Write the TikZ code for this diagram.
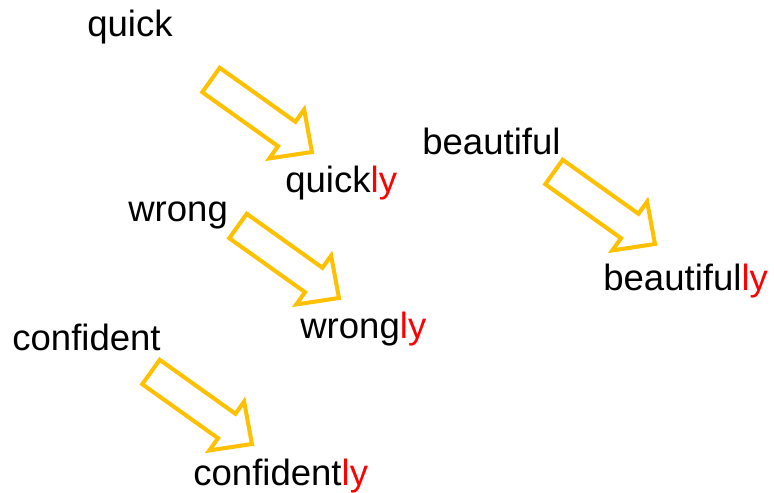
\documentclass[tikz,border=0pt]{standalone}
\usepackage{fontspec}
\setmainfont{Liberation Sans}
\usetikzlibrary{positioning}
\definecolor{adjArrow}{HTML}{FFC000}
\definecolor{adjSuffix}{HTML}{FF0000}
\newcommand{\lySuffix}{\textcolor{adjSuffix}{ly}}
\tikzset{
  adj-word/.style={
    anchor=base west, inner sep=0pt,
    font=\fontsize{20.8}{24}\selectfont
  },
  adj-arrow/.pic={
    \draw[adjArrow, line width=2.3pt, fill=white, line join=miter]
      (0,15) -- (93,15) -- (93,30) -- (124,0) -- (93,-30) -- (93,-15)
      -- (0,-15) -- cycle;
  },
}

\begin{document}
\begin{tikzpicture}[x=0.02cm, y=0.02cm]
  \useasboundingbox (0,0) rectangle (774,-493);

  % words
  \node[adj-word] (quick)       at (87,-37)   {quick};
  \node[adj-word] (quickly)     at (285,-193) {quick\lySuffix};
  \node[adj-word] (beautiful)   at (422,-155) {beautiful};
  \node[adj-word] (beautifully) at (603,-290) {beautiful\lySuffix};
  \node[adj-word] (wrong)       at (128,-222) {wrong};
  \node[adj-word] (wrongly)     at (300,-338) {wrong\lySuffix};
  \node[adj-word] (confident)   at (12,-350)  {confident};
  \node[adj-word] (confidently) at (193,-485) {confident\lySuffix};

  % block arrows
  \pic[rotate=-35.5] (quick-arr)     at (211,-80)  {adj-arrow};
  \pic[rotate=-35.5] (beautiful-arr) at (554,-172) {adj-arrow};
  \pic[rotate=-35.5] (wrong-arr)     at (238,-226) {adj-arrow};
  \pic[rotate=-35.5] (confident-arr) at (151,-372) {adj-arrow};
\end{tikzpicture}
\end{document}
